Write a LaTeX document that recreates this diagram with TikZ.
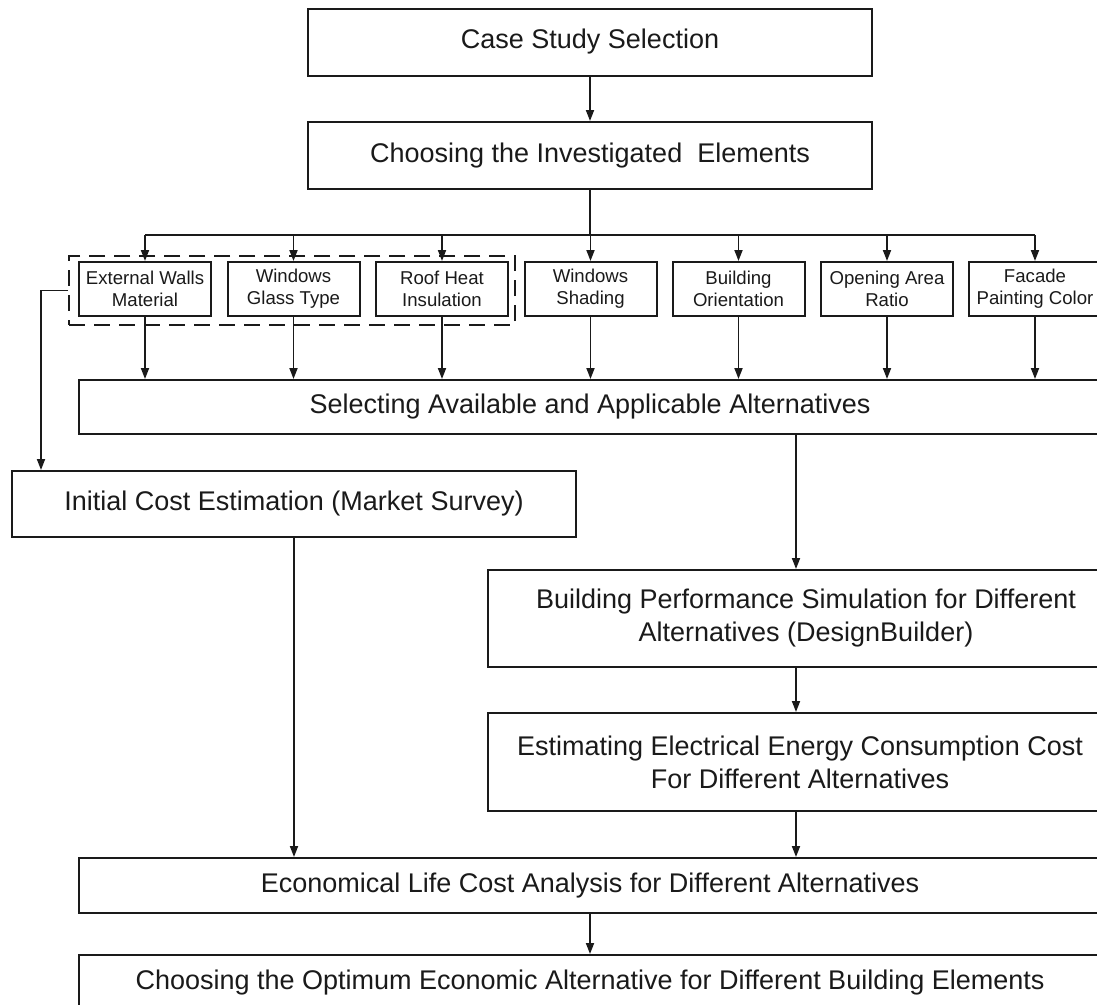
\documentclass[tikz,border=0pt]{standalone}
\usepackage{fontspec}
\setmainfont{Liberation Sans}
\usetikzlibrary{arrows.meta,calc}
\definecolor{ink}{HTML}{1A1A1A}
\begin{document}
\begin{tikzpicture}[x=1pt,y=-1pt,
  box/.style={draw=ink, line width=2pt, inner sep=0pt, align=center, text=ink,
    font=\fontsize{27}{33}\selectfont},
  elem/.style={draw=ink, line width=2pt, inner sep=0pt, align=center, text=ink,
    minimum width=132pt, minimum height=54pt, font=\fontsize{18.6}{22.3}\selectfont},
  grpbox/.style={draw=ink, line width=2pt, dash pattern=on 16pt off 9pt, inner sep=0pt},
  conn/.style={draw=ink, line width=1.8pt},
  arr/.style={conn, -{Triangle[length=11pt,width=8pt]}}]
\useasboundingbox (0,0) rectangle (1097,1004);
\clip (0,0) rectangle (1097,1004);
\fill[white] (0,0) rectangle (1097,1004);

% main boxes
\node[box, minimum width=564pt, minimum height=67pt] (cs) at (590,42) {Case Study Selection};
\node[box, minimum width=564pt, minimum height=67pt] (ch) at (590,155.5) {Choosing the Investigated\ \ Elements};

% dashed group
\node[grpbox, minimum width=446pt, minimum height=69pt] (grp) at (292,290.5) {};

% element boxes
\node[elem] (e1) at (145,289) {External Walls\\Material};
\node[elem] (e2) at (293.5,289) {Windows\\Glass Type};
\node[elem] (e3) at (442,289) {Roof Heat\\Insulation};
\node[elem] (e4) at (590.5,289) {Windows\\Shading};
\node[elem] (e5) at (738.5,289) {Building\\Orientation};
\node[elem] (e6) at (887,289) {Opening Area\\Ratio};
\node[elem] (e7) at (1035,289) {Facade\\Painting Color};

\node[box, minimum width=1022pt, minimum height=54pt] (sel) at (590,407) {Selecting Available and Applicable Alternatives};
\node[box, minimum width=564pt, minimum height=66pt] (ic) at (294,504) {Initial Cost Estimation (Market Survey)};
\node[box, minimum width=636pt, minimum height=97pt] (bps) at (806,618.5) {Building Performance Simulation for Different\\Alternatives (DesignBuilder)};
\node[box, minimum width=624pt, minimum height=98pt] (eec) at (800,762) {Estimating Electrical Energy Consumption Cost\\For Different Alternatives};
\node[box, minimum width=1022pt, minimum height=55pt] (econ) at (590,885.5) {Economical Life Cost Analysis for Different Alternatives};
\node[box, minimum width=1022pt, minimum height=55pt] (final) at (590,982.5) {Choosing the Optimum Economic Alternative for Different Building Elements};

% helper coordinates
\coordinate (bus) at (590,235);
\coordinate (c1) at ([xshift=-10pt]bps.north);
\coordinate (c2) at ([xshift=30pt]ic.north west);

% connectors
\draw[arr] (cs.south) -- (ch.north);
\draw[conn] (ch.south) -- (bus);
\draw[conn] (e1.north |- bus) -- (e7.north |- bus);
\foreach \e in {e1,e2,e3,e4,e5,e6,e7}{
  \draw[arr] (\e.north |- bus) -- (\e.north);
  \draw[arr] (\e.south) -- (\e.south |- sel.north);
}
\draw[arr] (grp.west) -| (c2);
\draw[arr] (c1 |- sel.south) -- (c1);
\draw[arr] (c1 |- bps.south) -- (c1 |- eec.north);
\draw[arr] (c1 |- eec.south) -- (c1 |- econ.north);
\draw[arr] (ic.south) -- (ic.south |- econ.north);
\draw[arr] (econ.south) -- (final.north);
\end{tikzpicture}
\end{document}
